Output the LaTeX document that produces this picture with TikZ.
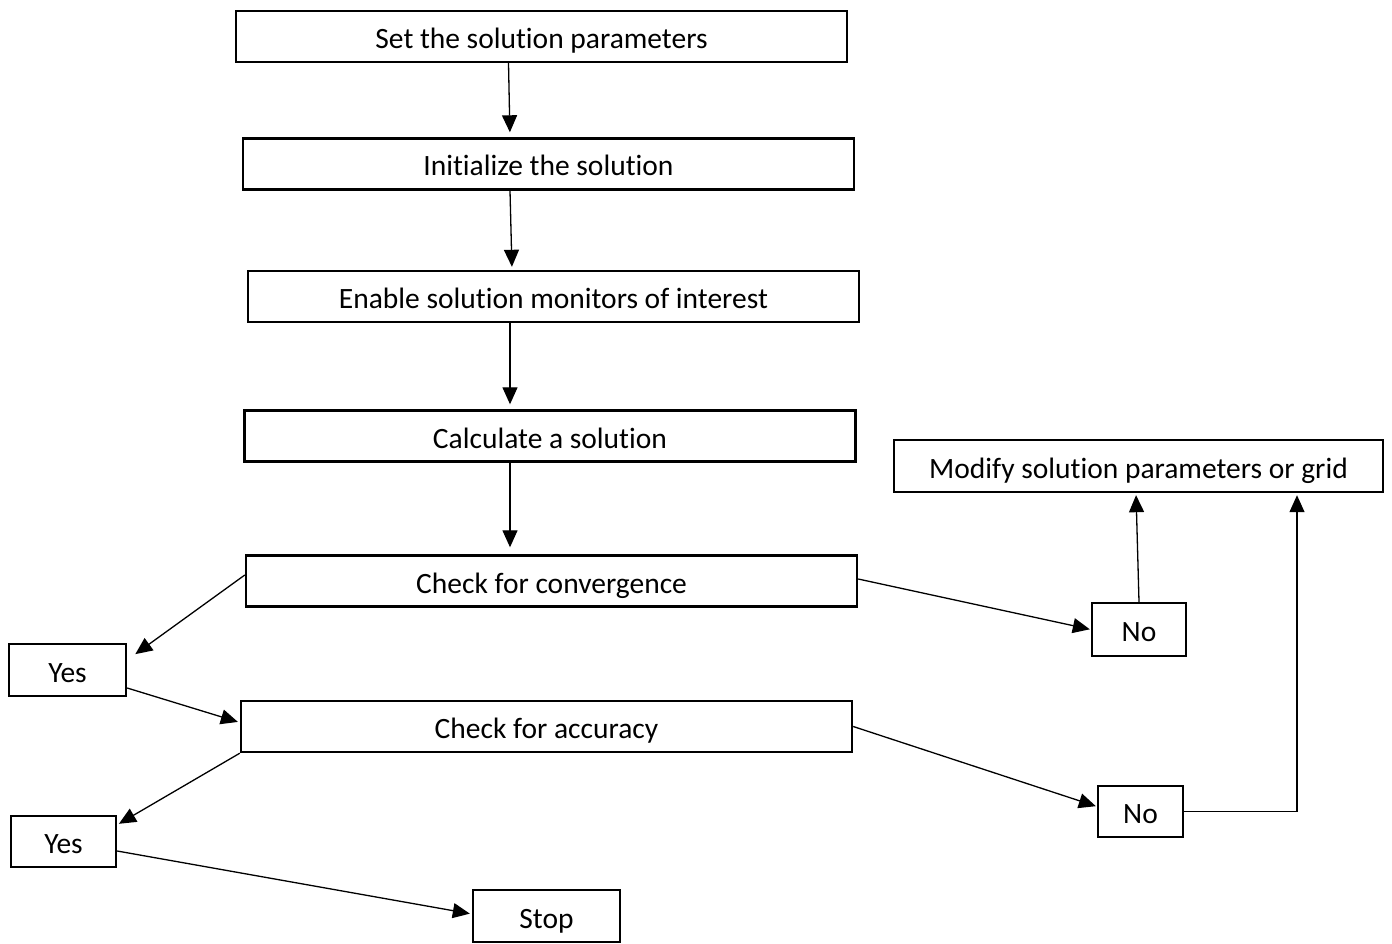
\documentclass[tikz,border=0pt]{standalone}
\usepackage{fontspec}
\setmainfont{Carlito}[Ligatures=NoCommon]
\usetikzlibrary{arrows.meta}

\begin{document}
\begin{tikzpicture}[x=1pt, y=-1pt,
  every node/.append style={draw, line width=2.4pt, inner sep=0pt, text height=30pt, text depth=6pt,
    font=\fontsize{29.5}{35}\selectfont, fill=white, text=black},
  wide/.style={minimum width=611pt, minimum height=51pt},
  flow/.style={draw, line width=1.3pt, -{Triangle[length=17pt,width=15pt]}}]
\useasboundingbox (0,0) rectangle (1392,944);
\node[wide] (set)   at (541.5,36.5) {Set the solution parameters};
\node[wide] (init)  at (548.5,164)  {Initialize the solution};
\node[wide] (monit) at (553.5,296.5) {Enable solution monitors of interest};
\node[wide] (calc)  at (550,436)    {Calculate a solution};
\node[wide] (conv)  at (551.5,581)  {Check for convergence};
\node[wide] (acc)   at (546.5,726.5) {Check for accuracy};
\node[minimum width=489pt, minimum height=52pt] (modify) at (1138.5,466) {Modify solution parameters or grid};
\node[minimum width=94pt, minimum height=53pt]  (no1)  at (1139,629.5) {No};
\node[minimum width=85pt, minimum height=51pt]  (no2)  at (1140.5,811.5) {No};
\node[minimum width=117pt, minimum height=52pt] (yes1) at (67.5,670) {Yes};
\node[minimum width=105pt, minimum height=51pt] (yes2) at (63.5,841.5) {Yes};
\node[minimum width=147pt, minimum height=52pt] (stop) at (546.5,916) {Stop};

\draw[flow, shorten >=5pt] ([xshift=-33pt]set.south) -- ([xshift=-38.5pt]init.north);
\draw[flow, shorten >=3pt] ([xshift=-38.5pt]init.south) -- ([xshift=-41.5pt]monit.north);
\draw[flow, shorten >=5pt] ([xshift=-43.5pt]monit.south) -- ([xshift=-40pt]calc.north);
\draw[flow, shorten >=7pt] ([xshift=-40pt]calc.south) -- ([xshift=-41.5pt]conv.north);
\draw[flow, shorten >=10pt] ([yshift=6pt]conv.west) -- ([yshift=10pt]yes1.east);
\draw[flow, shorten >=1pt] ([yshift=2pt]conv.east) -- (no1.west);
\draw[flow, shorten >=2pt] (no1.north) -- ([xshift=-2.5pt]modify.south);
\draw[flow, shorten >=2pt] ([yshift=-18pt]yes1.east) -- ([yshift=4pt]acc.west);
\draw[flow, shorten >=2pt] (acc.south west) -- ([yshift=-10pt]yes2.north east);
\draw[flow, shorten >=1pt] (acc.east) -- ([yshift=5pt]no2.west);
\draw[flow, shorten >=2pt] (no2.east) -| ([xshift=158.5pt]modify.south);
\draw[flow, shorten >=2pt] ([yshift=-9.5pt]yes2.east) -- ([yshift=2pt]stop.west);
\end{tikzpicture}
\end{document}
